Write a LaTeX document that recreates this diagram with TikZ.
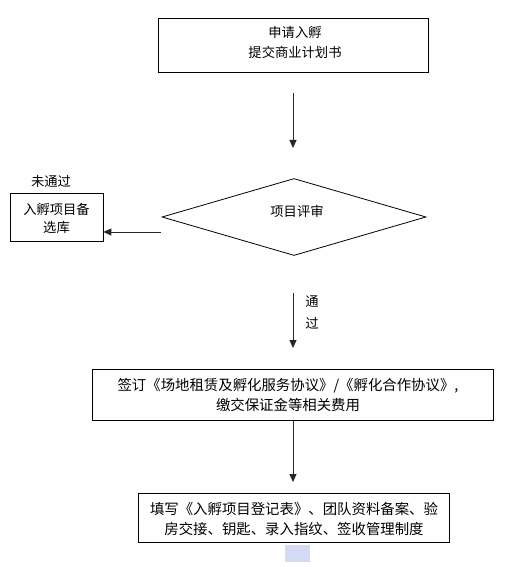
\documentclass[tikz,border=0pt]{standalone}
\usepackage{fontspec}
\setmainfont{Noto Sans CJK SC}
\usetikzlibrary{arrows.meta,shapes.geometric}
\definecolor{selblue}{HTML}{D3DAF6}
\begin{document}
\begin{tikzpicture}[x=1bp,y=-1bp,
  box/.style={draw=black,line width=0.8bp,inner sep=0pt,rectangle},
  txt/.style={inner sep=0pt,align=center,font=\fontsize{13.3bp}{20bp}\selectfont},
  txtb/.style={inner sep=0pt,align=center,font=\fontsize{14.4bp}{20bp}\selectfont},
  arr/.style={draw=black!85,line width=0.9bp,-{Triangle[length=8bp,width=7bp]}}]
\useasboundingbox (0,0) rectangle (510,567);
% boxes
\node[box,minimum width=270bp,minimum height=54bp] (b1) at (293,45) {};
\node[txt] (t1) at (295,42) {申请入孵\\提交商业计划书};
\node[draw=black,line width=0.8bp,shape=diamond,minimum width=264bp,minimum height=77bp,inner sep=0pt] (d) at (294,217) {};
\node[txt] (td) at (297,211) {项目评审};
\node[box,minimum width=93bp,minimum height=48bp] (lb) at (56.5,217) {};
\node[txt,font=\fontsize{13.3bp}{18bp}\selectfont] (tlb) at (56.5,218) {入孵项目备\\选库};
\node[txt] (nt) at (51,181) {未通过};
\node[box,minimum width=401bp,minimum height=51bp] (b3) at (292.5,394.5) {};
\node[txtb] (t3) at (288,395) {签订《场地租赁及孵化服务协议》/《孵化合作协议》,\\缴交保证金等相关费用};
\node[box,minimum width=311bp,minimum height=49bp] (b4) at (293.5,517.5) {};
\node[txtb] (t4) at (294,519) {填写《入孵项目登记表》、团队资料备案、验\\房交接、钥匙、录入指纹、签收管理制度};
\node[fill=selblue,inner sep=0pt,minimum width=25bp,minimum height=17bp] (sel) at (297.5,553.5) {};
\node[txt] (p1) at (312,302) {通};
\node[txt] (p2) at (312,323) {过};
% connectors
\coordinate (a1s) at (293,93);
\coordinate (a1e) at (293,148);
\draw[arr] (a1s) -- (a1e);
\coordinate (a2s) at (293,293);
\coordinate (a2e) at (293,348);
\draw[arr] (a2s) -- (a2e);
\coordinate (ls) at (161,232);
\draw[arr] (ls) -- (lb.east |- ls);
\coordinate (a3e) at (293,482);
\draw[arr] (b3.south -| a3e) -- (a3e);
\end{tikzpicture}
\end{document}
